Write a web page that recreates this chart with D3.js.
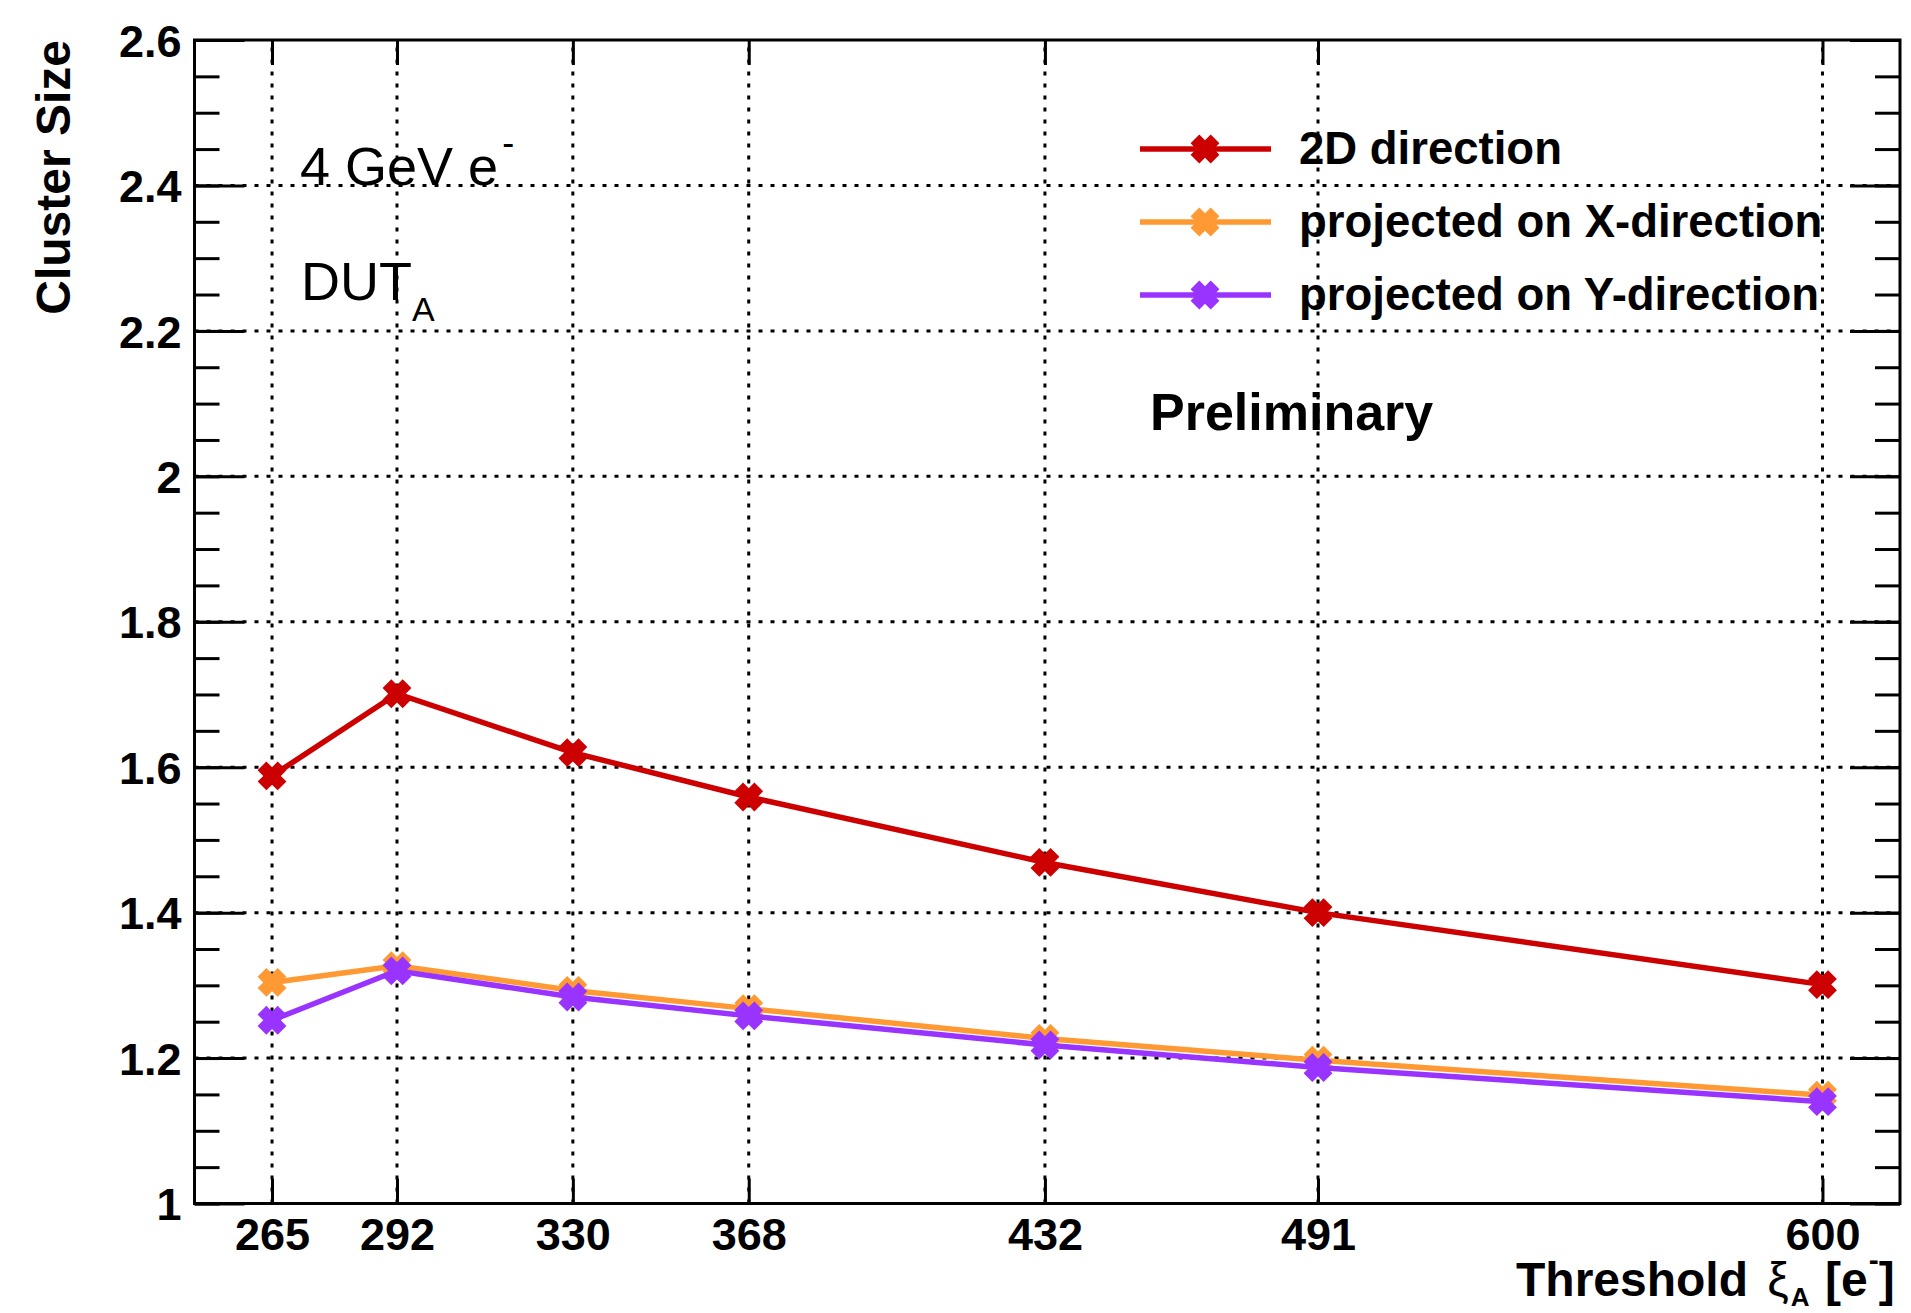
<!DOCTYPE html>
<html>
<head>
<meta charset="utf-8">
<script src="https://cdn.jsdelivr.net/npm/d3@7"></script>
<style>
  html, body { margin: 0; padding: 0; background: #fff; }
  svg { display: block; }
  text { font-family: "Liberation Sans", Arial, Helvetica, sans-serif; }
</style>
</head>
<body>
<svg id="chart" width="1911" height="1313"></svg>
<script>
// ---- data ----
const thresholds = [265, 292, 330, 368, 432, 491, 600];
const xTickLabels = ["265", "292", "330", "368", "432", "491", "600"];
const size2D = [1.588, 1.701, 1.620, 1.559, 1.469, 1.400, 1.301];
const sizeX  = [1.304, 1.327, 1.293, 1.268, 1.227, 1.197, 1.149];
const sizeY  = [1.252, 1.320, 1.284, 1.258, 1.218, 1.187, 1.140];
const seriesNames = ["2D direction", "projected on X-direction", "projected on Y-direction"];
const seriesColors = ["#cc0000", "#ff9933", "#9933ff"];
const yMajorTicks = [1.0, 1.2, 1.4, 1.6, 1.8, 2.0, 2.2, 2.4, 2.6];
const yMinorTicks = d3.range(1.0, 2.6001, 0.05).map(v => +v.toFixed(2));

// ---- layout ----
const W = 1911, H = 1313;
const L = 194.5, R = 1900, T = 40, B = 1203.5;

const svg = d3.select("#chart");
const x = d3.scaleLinear().domain([248.25, 616.75]).range([L, R]);
const y = d3.scaleLinear().domain([1.0, 2.6]).range([B, T]);

// ---- grid (dotted) ----
const grid = svg.append("g").attr("stroke", "#000").attr("stroke-width", 3)
  .attr("stroke-dasharray", "4,8");
grid.selectAll("line.v").data(thresholds).join("line")
  .attr("x1", d => x(d)).attr("x2", d => x(d)).attr("y1", B).attr("y2", T);
grid.selectAll("line.h").data(yMajorTicks.slice(1, -1)).join("line")
  .attr("x1", L).attr("x2", R).attr("y1", d => y(d)).attr("y2", d => y(d));

// ---- axes ticks ----
function styleAxis(g) {
  g.select(".domain").remove();
  g.selectAll(".tick line").attr("stroke", "#000").attr("stroke-width", 3);
}
svg.append("g").attr("transform", `translate(${L},0)`)
  .call(d3.axisLeft(y).tickValues(yMinorTicks).tickSize(-25).tickFormat(""))
  .call(styleAxis);
svg.append("g").attr("transform", `translate(${L},0)`)
  .call(d3.axisLeft(y).tickValues(yMajorTicks).tickSize(-50).tickPadding(13)
    .tickFormat(d => String(+d.toFixed(1))))
  .call(styleAxis)
  .call(g => g.selectAll("text")
    .attr("font-size", 45).attr("font-weight", "bold").attr("fill", "#000")
    .attr("dy", "0.36em"));
svg.append("g").attr("transform", `translate(${R},0)`)
  .call(d3.axisRight(y).tickValues(yMinorTicks).tickSize(-25).tickFormat(""))
  .call(styleAxis);
svg.append("g").attr("transform", `translate(${R},0)`)
  .call(d3.axisRight(y).tickValues(yMajorTicks).tickSize(-50).tickFormat(""))
  .call(styleAxis);
svg.append("g").attr("transform", `translate(0,${B})`)
  .call(d3.axisBottom(x).tickValues(thresholds).tickSize(-25)
    .tickFormat((d, i) => xTickLabels[i]))
  .call(styleAxis)
  .call(g => g.selectAll("text")
    .attr("font-size", 45).attr("font-weight", "bold").attr("fill", "#000")
    .attr("y", 46.5).attr("dy", 0));
svg.append("g").attr("transform", `translate(0,${T})`)
  .call(d3.axisTop(x).tickValues(thresholds).tickSize(-25).tickFormat(""))
  .call(styleAxis);

// ---- frame ----
svg.append("rect").attr("x", L).attr("y", T).attr("width", R - L).attr("height", B - T)
  .attr("fill", "none").attr("stroke", "#000").attr("stroke-width", 3);

// ---- series ----
const allSeries = [size2D, sizeX, sizeY];
const line = d3.line().x((d, i) => x(thresholds[i])).y(d => y(d));

function markerPath(hl, hw) {
  const p = [[-hw,-hl],[hw,-hl],[hw,-hw],[hl,-hw],[hl,hw],[hw,hw],[hw,hl],[-hw,hl],[-hw,hw],[-hl,hw],[-hl,-hw],[-hw,-hw]];
  return "M" + p.map(q => q.join(",")).join("L") + "Z";
}
const mPath = markerPath(14.2, 6.2);

allSeries.forEach((vals, si) => {
  const g = svg.append("g");
  g.append("path").datum(vals).attr("d", line)
    .attr("fill", "none").attr("stroke", seriesColors[si]).attr("stroke-width", 5.5)
    .attr("stroke-linejoin", "miter");
  g.selectAll("path.m").data(vals).join("path").attr("class", "m")
    .attr("d", mPath)
    .attr("transform", (d, i) => `translate(${x(thresholds[i])},${y(d)}) rotate(45)`)
    .attr("fill", seriesColors[si]);
});

// ---- legend ----
const legY = [149, 222, 295];
const leg = svg.append("g");
seriesNames.forEach((name, i) => {
  leg.append("line").attr("x1", 1140).attr("x2", 1271).attr("y1", legY[i]).attr("y2", legY[i])
    .attr("stroke", seriesColors[i]).attr("stroke-width", 5.5);
  leg.append("path").attr("d", mPath)
    .attr("transform", `translate(1205,${legY[i]}) rotate(45)`)
    .attr("fill", seriesColors[i]);
  leg.append("text").attr("x", 1299).attr("y", legY[i] + 14.5)
    .attr("font-size", 45.5).attr("font-weight", "bold").text(name);
});

// ---- annotations ----
const t1 = svg.append("text").attr("x", 300).attr("y", 185).attr("font-size", 54);
t1.append("tspan").text("4 GeV e");
t1.append("tspan").attr("font-size", 36).attr("dy", -30).attr("dx", 4).text("-");

const t2 = svg.append("text").attr("x", 301).attr("y", 300).attr("font-size", 54);
t2.append("tspan").text("DUT");
t2.append("tspan").attr("font-size", 34).attr("dy", 21).text("A");

svg.append("text").attr("x", 1150).attr("y", 430).attr("font-size", 52)
  .attr("font-weight", "bold").text("Preliminary");

// axis titles
svg.append("text")
  .attr("transform", "translate(70,40) rotate(-90)")
  .attr("text-anchor", "end").attr("font-size", 48).attr("font-weight", "bold")
  .text("Cluster Size");

const xt = svg.append("text").attr("x", 1516).attr("y", 1296)
  .attr("font-size", 48).attr("font-weight", "bold");
xt.append("tspan").text("Threshold ");
xt.append("tspan").attr("font-weight", "normal").attr("dx", 6).text("\u03be");
xt.append("tspan").attr("font-size", 26).attr("dy", 10).attr("dx", 2).text("A");
xt.append("tspan").attr("dy", -10).attr("dx", 2).text(" [e");
xt.append("tspan").attr("font-size", 30).attr("dy", -26).attr("dx", 1).text("-");
xt.append("tspan").attr("dy", 26).text("]");
</script>
</body>
</html>
